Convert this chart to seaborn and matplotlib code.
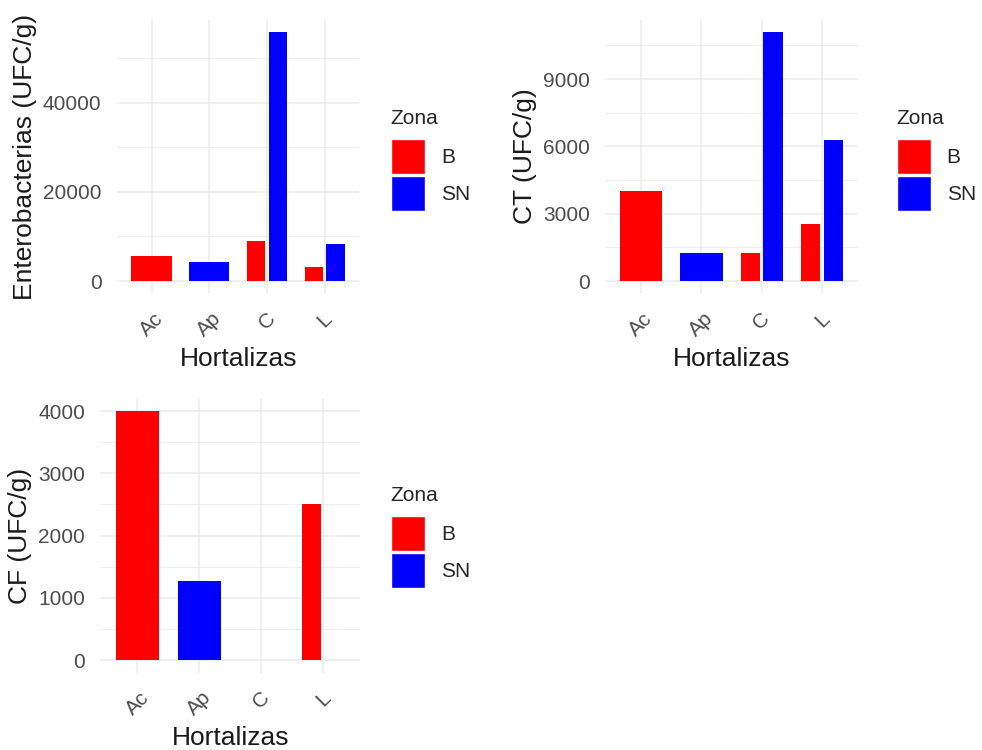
import numpy as np
import pandas as pd
import matplotlib.pyplot as plt
import seaborn as sns
from matplotlib.patches import Patch
from matplotlib.ticker import MultipleLocator

hortalizas = ["Ac", "Ap", "C", "L"]
zonas = ["B", "SN"]

# one record per sampled (hortaliza, zona)
muestra_hort = ["Ac", "Ap", "C", "C", "L", "L"]
muestra_zona = ["B", "SN", "B", "SN", "B", "SN"]

entero = [5600, 4300, 9000, 55900, 3200, 8300]
ct = [4030, 1250, 1250, 11100, 2530, 6280]
cf = [4000, 1270, 0, 0, 2500, 0]

colores = {"B": "#FF0000", "SN": "#0000FF"}

sns.set_style("white")
plt.rcParams["font.family"] = ["Liberation Sans", "DejaVu Sans"]

fig = plt.figure(figsize=(9.82, 7.5), dpi=100)

# panel rects in figure fraction, legend anchor
paneles = [
    (entero, "Enterobacterias (UFC/g)", 20000, [0.119, 0.6087, 0.247, 0.3653], (0.398, 0.855)),
    (ct, "CT (UFC/g)", 3000, [0.616, 0.6087, 0.258, 0.3653], (0.913, 0.855)),
    (cf, "CF (UFC/g)", 1000, [0.102, 0.1033, 0.265, 0.3653], (0.398, 0.352)),
]

gris = "#4D4D4D"

for vals, ylab, paso, rect, ley in paneles:
    ax = fig.add_axes(rect)
    df = pd.DataFrame({"Hortalizas": muestra_hort, "Zona": muestra_zona, "valor": vals})
    n = df.groupby("Hortalizas")["Zona"].transform("count")

    sns.barplot(data=df[n > 1], x="Hortalizas", y="valor", hue="Zona",
                order=hortalizas, hue_order=zonas, palette=colores,
                width=0.75, gap=0.15, dodge=True, saturation=1,
                linewidth=0, errorbar=None, legend=False, ax=ax)
    sns.barplot(data=df[n == 1], x="Hortalizas", y="valor", hue="Zona",
                order=hortalizas, hue_order=zonas, palette=colores,
                width=0.7, dodge=False, saturation=1,
                linewidth=0, errorbar=None, legend=False, ax=ax)

    m = max(vals)
    ax.set_ylim(-0.05 * m, 1.05 * m)
    ax.set_xlim(-0.6, 3.6)
    ax.yaxis.set_major_locator(MultipleLocator(paso))
    ax.yaxis.set_minor_locator(MultipleLocator(paso / 2))
    ax.set_axisbelow(True)
    ax.grid(which="major", color="#EBEBEB", linewidth=1.1)
    ax.grid(which="minor", axis="y", color="#EBEBEB", linewidth=0.6)
    for s in ax.spines.values():
        s.set_visible(False)
    ax.tick_params(which="both", length=0)
    ax.tick_params(axis="y", labelsize=15, labelcolor=gris, pad=11)
    ax.tick_params(axis="x", labelsize=15, labelcolor=gris, pad=11)
    plt.setp(ax.get_xticklabels(), rotation=45, ha="center", va="top")
    ax.set_xlabel("Hortalizas", fontsize=19, color="#1A1A1A", labelpad=5)
    ax.set_ylabel(ylab, fontsize=19, color="#1A1A1A", labelpad=4)

    handles = [Patch(facecolor=colores[z], edgecolor="white", linewidth=1) for z in zonas]
    leg = fig.legend(handles, zonas, title="Zona", loc="upper left",
                     bbox_to_anchor=ley, frameon=False, fontsize=15,
                     title_fontsize=15, handlelength=1.65, handleheight=2.2,
                     handletextpad=0.75, labelspacing=0.1, borderpad=0,
                     borderaxespad=0, alignment="left")
    leg._legend_box.sep = 8

fig.savefig("out.png", dpi=100, facecolor="white")
